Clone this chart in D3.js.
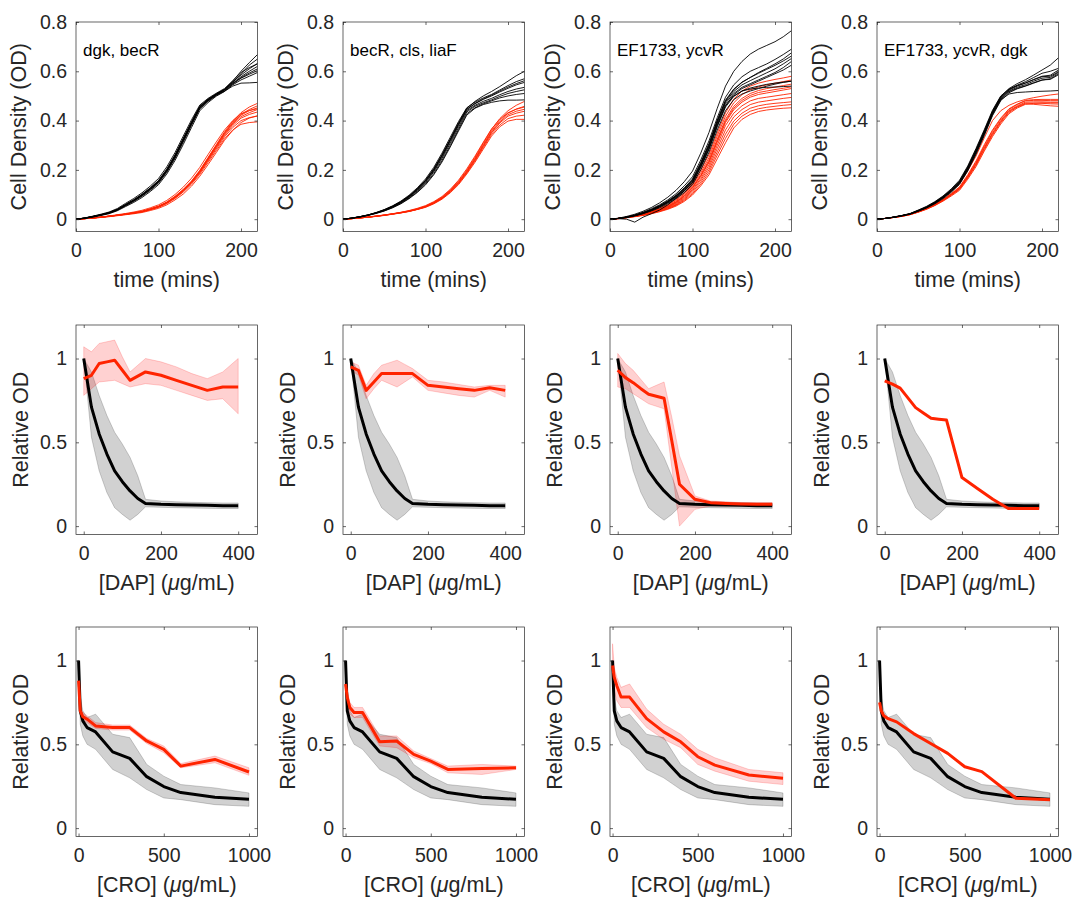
<!DOCTYPE html>
<html><head><meta charset="utf-8">
<script src="https://cdn.jsdelivr.net/npm/d3@7"></script>
<style>
body{margin:0;background:#fff}
svg{display:block}
text{font-family:"Liberation Sans",Arial,Helvetica,sans-serif}
</style>
</head><body>
<svg id="chart" width="1078" height="901"></svg>
<script>
// ---------------- DATA ----------------
const strainLabels = ["dgk, becR", "becR, cls, liaF", "EF1733, ycvR", "EF1733, ycvR, dgk"];

// Row 1: growth curves (time in minutes)
const growthTime = [0,10,20,30,40,50,60,70,80,90,100,110,120,130,140,150,160,170,180,190,200,210,220];

const growthBlack1 = [
 [0,0.004,0.010,0.017,0.025,0.038,0.057,0.075,0.097,0.122,0.151,0.196,0.253,0.320,0.388,0.453,0.482,0.505,0.523,0.550,0.574,0.593,0.610],
 [0,0.004,0.011,0.018,0.027,0.040,0.060,0.079,0.101,0.127,0.157,0.203,0.261,0.328,0.395,0.458,0.487,0.508,0.527,0.557,0.585,0.610,0.632],
 [0,0.003,0.009,0.016,0.024,0.036,0.054,0.072,0.093,0.117,0.146,0.190,0.246,0.312,0.381,0.447,0.478,0.502,0.520,0.545,0.565,0.580,0.595],
 [0,0.004,0.010,0.017,0.026,0.039,0.058,0.077,0.099,0.125,0.154,0.199,0.257,0.324,0.391,0.455,0.484,0.507,0.526,0.560,0.600,0.635,0.668],
 [0,0.004,0.010,0.017,0.025,0.037,0.056,0.074,0.095,0.120,0.149,0.193,0.250,0.317,0.385,0.450,0.480,0.503,0.519,0.540,0.552,0.553,0.555],
 [0,0.004,0.010,0.017,0.025,0.038,0.057,0.076,0.098,0.123,0.152,0.197,0.255,0.322,0.390,0.454,0.483,0.506,0.525,0.552,0.578,0.600,0.620],
 [0,0.004,0.011,0.018,0.026,0.039,0.059,0.078,0.100,0.126,0.156,0.201,0.259,0.326,0.393,0.457,0.486,0.508,0.526,0.555,0.590,0.625,0.650],
 [0,0.005,0.012,0.020,0.029,0.043,0.064,0.084,0.107,0.134,0.165,0.212,0.270,0.337,0.403,0.463,0.490,0.511,0.530,0.562,0.595,0.615,0.630],
 [0,0.003,0.008,0.015,0.022,0.034,0.051,0.068,0.088,0.112,0.140,0.183,0.238,0.303,0.372,0.440,0.473,0.499,0.518,0.548,0.572,0.588,0.603]
];
const growthRed1 = [
 [0,0.002,0.005,0.008,0.012,0.016,0.020,0.025,0.031,0.040,0.050,0.066,0.088,0.115,0.148,0.190,0.240,0.290,0.340,0.380,0.410,0.425,0.435],
 [0,0.002,0.005,0.008,0.012,0.016,0.021,0.026,0.032,0.042,0.053,0.070,0.093,0.121,0.155,0.198,0.250,0.302,0.354,0.398,0.432,0.455,0.470],
 [0,0.002,0.004,0.007,0.011,0.015,0.019,0.024,0.030,0.038,0.048,0.063,0.084,0.110,0.142,0.182,0.230,0.278,0.326,0.362,0.385,0.392,0.395],
 [0,0.002,0.005,0.008,0.012,0.016,0.020,0.025,0.031,0.041,0.051,0.067,0.090,0.118,0.151,0.194,0.245,0.296,0.348,0.390,0.422,0.440,0.452],
 [0,0.002,0.005,0.008,0.012,0.016,0.020,0.025,0.030,0.039,0.049,0.065,0.086,0.113,0.146,0.187,0.236,0.285,0.334,0.372,0.400,0.412,0.418],
 [0,0.002,0.005,0.008,0.012,0.016,0.020,0.025,0.031,0.040,0.051,0.067,0.089,0.116,0.150,0.192,0.243,0.294,0.344,0.386,0.416,0.432,0.445],
 [0,0.002,0.005,0.008,0.012,0.016,0.021,0.026,0.031,0.041,0.052,0.068,0.091,0.119,0.153,0.196,0.247,0.299,0.350,0.393,0.425,0.445,0.460],
 [0,0.002,0.005,0.009,0.013,0.018,0.023,0.029,0.036,0.046,0.058,0.076,0.100,0.130,0.166,0.210,0.262,0.313,0.362,0.400,0.428,0.441,0.448],
 [0,0.002,0.004,0.007,0.010,0.014,0.018,0.022,0.027,0.035,0.044,0.058,0.078,0.102,0.134,0.174,0.221,0.270,0.320,0.360,0.392,0.410,0.420]
];
const growthBlack2 = [
 [0,0.004,0.009,0.016,0.025,0.036,0.050,0.068,0.090,0.118,0.152,0.196,0.252,0.315,0.380,0.440,0.462,0.478,0.490,0.505,0.518,0.528,0.535],
 [0,0.004,0.010,0.017,0.027,0.039,0.054,0.073,0.097,0.127,0.163,0.210,0.268,0.332,0.396,0.452,0.475,0.492,0.506,0.524,0.542,0.558,0.570],
 [0,0.004,0.009,0.015,0.024,0.034,0.047,0.064,0.085,0.111,0.143,0.185,0.238,0.299,0.364,0.428,0.452,0.468,0.480,0.492,0.500,0.506,0.510],
 [0,0.004,0.010,0.017,0.026,0.038,0.053,0.071,0.094,0.123,0.158,0.204,0.261,0.325,0.390,0.450,0.478,0.500,0.518,0.538,0.560,0.582,0.600],
 [0,0.003,0.008,0.015,0.023,0.033,0.046,0.062,0.083,0.108,0.139,0.180,0.232,0.293,0.358,0.422,0.450,0.465,0.474,0.480,0.483,0.483,0.484],
 [0,0.004,0.009,0.016,0.025,0.037,0.051,0.069,0.092,0.120,0.155,0.200,0.257,0.320,0.385,0.445,0.468,0.486,0.500,0.516,0.531,0.545,0.555],
 [0,0.004,0.009,0.016,0.025,0.035,0.049,0.066,0.088,0.115,0.148,0.192,0.246,0.308,0.372,0.435,0.458,0.472,0.484,0.498,0.510,0.518,0.525],
 [0,0.004,0.010,0.017,0.026,0.037,0.052,0.070,0.093,0.122,0.157,0.202,0.259,0.322,0.387,0.446,0.470,0.488,0.503,0.520,0.536,0.550,0.562]
];
const growthRed2 = [
 [0,0.002,0.005,0.008,0.012,0.016,0.021,0.026,0.032,0.040,0.050,0.065,0.084,0.112,0.146,0.190,0.240,0.295,0.350,0.390,0.418,0.430,0.438],
 [0,0.002,0.005,0.008,0.012,0.017,0.022,0.027,0.034,0.042,0.053,0.069,0.089,0.118,0.154,0.199,0.251,0.308,0.364,0.408,0.440,0.462,0.478],
 [0,0.002,0.005,0.008,0.011,0.015,0.020,0.025,0.031,0.039,0.048,0.062,0.081,0.107,0.140,0.183,0.231,0.284,0.337,0.375,0.398,0.405,0.405],
 [0,0.002,0.005,0.008,0.012,0.016,0.021,0.027,0.033,0.041,0.052,0.067,0.087,0.115,0.150,0.195,0.246,0.302,0.358,0.400,0.430,0.447,0.458],
 [0,0.002,0.005,0.008,0.012,0.016,0.021,0.026,0.032,0.040,0.049,0.064,0.083,0.110,0.143,0.187,0.236,0.290,0.344,0.382,0.408,0.418,0.422],
 [0,0.002,0.005,0.008,0.012,0.016,0.021,0.026,0.032,0.040,0.051,0.066,0.085,0.113,0.148,0.192,0.243,0.298,0.353,0.394,0.424,0.438,0.446],
 [0,0.002,0.005,0.009,0.013,0.017,0.022,0.028,0.035,0.044,0.055,0.071,0.092,0.121,0.158,0.204,0.256,0.312,0.366,0.405,0.432,0.446,0.455]
];
const growthBlack3 = [
 [0,0.003,0.008,0.015,0.025,0.037,0.052,0.070,0.092,0.120,0.155,0.220,0.295,0.390,0.470,0.510,0.535,0.550,0.565,0.580,0.595,0.615,0.640],
 [0,0.004,0.011,0.020,0.032,0.047,0.066,0.089,0.117,0.152,0.195,0.268,0.352,0.450,0.540,0.600,0.640,0.670,0.690,0.705,0.720,0.740,0.765],
 [0,0.002,0.000,-0.012,0.008,0.022,0.037,0.058,0.085,0.115,0.150,0.212,0.286,0.380,0.460,0.505,0.530,0.545,0.560,0.575,0.590,0.605,0.625],
 [0,0.003,0.009,0.017,0.028,0.042,0.058,0.078,0.103,0.135,0.172,0.240,0.318,0.412,0.495,0.545,0.578,0.600,0.615,0.630,0.648,0.668,0.690],
 [0,0.003,0.007,0.013,0.022,0.033,0.046,0.063,0.083,0.108,0.140,0.200,0.272,0.362,0.440,0.485,0.508,0.520,0.530,0.540,0.548,0.555,0.560],
 [0,0.003,0.008,0.016,0.026,0.039,0.055,0.074,0.097,0.127,0.163,0.230,0.307,0.402,0.483,0.528,0.556,0.575,0.592,0.608,0.624,0.642,0.662],
 [0,0.003,0.007,0.014,0.023,0.035,0.049,0.066,0.087,0.114,0.147,0.210,0.283,0.375,0.455,0.498,0.520,0.532,0.540,0.547,0.552,0.556,0.560],
 [0,0.003,0.008,0.015,0.025,0.037,0.052,0.071,0.094,0.123,0.158,0.224,0.300,0.395,0.476,0.518,0.545,0.562,0.578,0.594,0.610,0.630,0.652],
 [0,0.003,0.008,0.015,0.024,0.036,0.050,0.068,0.090,0.117,0.151,0.215,0.289,0.383,0.462,0.500,0.520,0.528,0.532,0.535,0.536,0.538,0.540],
 [0,0.003,0.008,0.016,0.026,0.038,0.054,0.072,0.095,0.124,0.160,0.226,0.302,0.398,0.480,0.525,0.555,0.575,0.595,0.612,0.630,0.650,0.675]
];
const growthRed3 = [
 [0,0.003,0.007,0.012,0.018,0.026,0.036,0.048,0.064,0.088,0.120,0.165,0.220,0.300,0.380,0.430,0.460,0.480,0.490,0.495,0.500,0.505,0.510],
 [0,0.003,0.008,0.014,0.022,0.032,0.044,0.059,0.079,0.107,0.145,0.198,0.262,0.350,0.432,0.487,0.520,0.540,0.552,0.560,0.567,0.573,0.580],
 [0,0.002,0.006,0.010,0.015,0.022,0.030,0.040,0.053,0.072,0.098,0.135,0.180,0.245,0.310,0.370,0.405,0.425,0.437,0.443,0.447,0.450,0.452],
 [0,0.003,0.007,0.013,0.020,0.029,0.040,0.053,0.071,0.097,0.132,0.181,0.240,0.325,0.405,0.458,0.490,0.510,0.522,0.530,0.536,0.542,0.548],
 [0,0.002,0.006,0.011,0.017,0.024,0.033,0.044,0.058,0.080,0.109,0.150,0.200,0.273,0.345,0.398,0.430,0.450,0.460,0.466,0.470,0.473,0.476],
 [0,0.003,0.007,0.012,0.019,0.027,0.038,0.050,0.067,0.092,0.126,0.173,0.230,0.312,0.392,0.444,0.475,0.495,0.506,0.512,0.518,0.524,0.530],
 [0,0.003,0.007,0.012,0.018,0.025,0.035,0.046,0.061,0.084,0.115,0.158,0.210,0.287,0.362,0.415,0.445,0.465,0.475,0.480,0.485,0.490,0.494],
 [0,0.003,0.008,0.013,0.021,0.030,0.042,0.056,0.075,0.102,0.138,0.189,0.250,0.338,0.418,0.472,0.505,0.525,0.537,0.545,0.552,0.558,0.565],
 [0,0.002,0.006,0.011,0.016,0.023,0.032,0.042,0.056,0.076,0.103,0.142,0.190,0.260,0.328,0.385,0.418,0.438,0.448,0.454,0.458,0.462,0.465],
 [0,0.003,0.007,0.012,0.019,0.028,0.039,0.052,0.069,0.094,0.128,0.176,0.234,0.318,0.398,0.450,0.482,0.502,0.514,0.520,0.526,0.531,0.537]
];
const growthBlack4 = [
 [0,0.003,0.008,0.014,0.021,0.034,0.048,0.066,0.088,0.115,0.148,0.205,0.274,0.350,0.430,0.490,0.520,0.535,0.546,0.560,0.572,0.575,0.595],
 [0,0.003,0.008,0.015,0.022,0.036,0.050,0.069,0.092,0.120,0.154,0.212,0.282,0.358,0.438,0.498,0.530,0.550,0.566,0.585,0.605,0.625,0.655],
 [0,0.003,0.008,0.014,0.021,0.033,0.047,0.064,0.086,0.112,0.145,0.200,0.268,0.344,0.424,0.484,0.508,0.514,0.516,0.518,0.519,0.520,0.522],
 [0,0.003,0.008,0.014,0.021,0.034,0.048,0.067,0.089,0.117,0.150,0.208,0.277,0.353,0.433,0.493,0.524,0.540,0.552,0.567,0.580,0.584,0.605],
 [0,0.003,0.008,0.014,0.021,0.033,0.047,0.065,0.087,0.114,0.146,0.203,0.271,0.347,0.427,0.487,0.517,0.531,0.541,0.554,0.565,0.567,0.586],
 [0,0.003,0.008,0.014,0.022,0.035,0.049,0.068,0.090,0.118,0.152,0.209,0.279,0.355,0.435,0.495,0.526,0.544,0.558,0.575,0.592,0.600,0.612],
 [0,0.003,0.009,0.015,0.023,0.037,0.052,0.071,0.094,0.123,0.158,0.216,0.287,0.363,0.442,0.500,0.528,0.542,0.553,0.566,0.578,0.580,0.598],
 [0,0.003,0.007,0.013,0.020,0.032,0.045,0.062,0.083,0.109,0.141,0.196,0.263,0.339,0.420,0.481,0.513,0.529,0.540,0.552,0.564,0.570,0.590]
];
const growthRed4 = [
 [0,0.003,0.007,0.012,0.019,0.030,0.042,0.058,0.078,0.100,0.125,0.172,0.226,0.290,0.350,0.400,0.440,0.460,0.475,0.476,0.476,0.475,0.475],
 [0,0.003,0.008,0.014,0.022,0.034,0.048,0.066,0.088,0.114,0.143,0.196,0.256,0.330,0.400,0.440,0.462,0.476,0.486,0.493,0.499,0.504,0.508],
 [0,0.003,0.007,0.012,0.019,0.029,0.041,0.056,0.075,0.097,0.121,0.167,0.219,0.282,0.341,0.392,0.433,0.455,0.468,0.466,0.463,0.460,0.458],
 [0,0.003,0.007,0.012,0.019,0.030,0.043,0.059,0.079,0.102,0.128,0.176,0.231,0.296,0.357,0.406,0.445,0.465,0.480,0.482,0.482,0.481,0.481],
 [0,0.003,0.007,0.012,0.019,0.030,0.042,0.057,0.077,0.099,0.123,0.170,0.223,0.287,0.346,0.396,0.437,0.457,0.471,0.471,0.470,0.468,0.467],
 [0,0.003,0.007,0.013,0.020,0.031,0.044,0.060,0.080,0.104,0.131,0.180,0.236,0.302,0.362,0.410,0.448,0.467,0.482,0.485,0.486,0.486,0.486],
 [0,0.003,0.007,0.011,0.018,0.028,0.040,0.055,0.073,0.094,0.117,0.162,0.213,0.276,0.335,0.386,0.428,0.451,0.466,0.470,0.472,0.472,0.472]
];

// Row 2: daptomycin dose response
const dapConc = [0,20,40,60,80,100,120,140,160,200,240,280,320,360,400];
const dapBlack   = [1,0.71,0.55,0.43,0.33,0.265,0.21,0.165,0.135,0.13,0.128,0.126,0.124,0.122,0.122];
const dapBlackHi = [1,0.92,0.78,0.66,0.56,0.49,0.41,0.30,0.16,0.15,0.145,0.142,0.14,0.138,0.138];
const dapBlackLo = [1,0.53,0.33,0.20,0.11,0.07,0.035,0.07,0.115,0.112,0.11,0.108,0.106,0.105,0.105];
const dapRed1   = [0.88,0.90,0.97,0.98,0.99,0.93,0.87,0.895,0.92,0.90,0.87,0.84,0.81,0.83,0.83];
const dapRed1Hi = [1.07,1.04,1.09,1.10,1.11,1.01,0.92,0.96,1.00,0.98,0.95,0.91,0.88,0.92,1.00];
const dapRed1Lo = [0.78,0.82,0.86,0.865,0.87,0.85,0.83,0.84,0.85,0.84,0.81,0.78,0.75,0.76,0.67];
const dapRed2   = [0.95,0.93,0.81,0.86,0.91,0.91,0.91,0.91,0.91,0.84,0.83,0.82,0.81,0.826,0.81];
const dapRed2Hi = [0.98,0.96,0.84,0.91,0.96,0.975,0.99,0.965,0.94,0.87,0.86,0.845,0.83,0.84,0.84];
const dapRed2Lo = [0.93,0.90,0.76,0.82,0.87,0.85,0.83,0.86,0.89,0.81,0.795,0.78,0.77,0.81,0.77];
const dapRed3   = [0.93,0.886,0.856,0.82,0.787,0.775,0.763,0.51,0.25,0.16,0.14,0.135,0.132,0.13,0.13];
const dapRed3Hi = [1.03,0.97,0.93,0.875,0.82,0.84,0.86,0.65,0.42,0.18,0.15,0.145,0.14,0.14,0.14];
const dapRed3Lo = [0.83,0.82,0.79,0.76,0.73,0.715,0.70,0.35,0.0,0.10,0.12,0.12,0.12,0.118,0.118];
const dapRed4   = [0.867,0.847,0.823,0.765,0.707,0.675,0.643,0.638,0.633,0.29,0.225,0.16,0.105,0.105,0.105];

// Row 3: ceftriaxone dose response
const croConc = [0,10,25,50,100,200,300,400,500,600,800,1000];
const croBlack   = [1,0.70,0.64,0.60,0.574,0.455,0.416,0.307,0.248,0.212,0.184,0.172];
const croBlackHi = [1,0.78,0.70,0.66,0.68,0.56,0.54,0.38,0.31,0.26,0.24,0.21];
const croBlackLo = [1,0.62,0.55,0.50,0.47,0.35,0.30,0.23,0.18,0.17,0.14,0.13];
const croRed1   = [0.88,0.70,0.665,0.65,0.61,0.60,0.60,0.52,0.47,0.37,0.41,0.335];
const croRed1Hi = [0.92,0.72,0.69,0.67,0.63,0.615,0.615,0.535,0.49,0.385,0.43,0.36];
const croRed1Lo = [0.84,0.68,0.645,0.63,0.595,0.585,0.585,0.505,0.45,0.36,0.39,0.315];
const croRed2   = [0.86,0.78,0.72,0.69,0.69,0.515,0.52,0.44,0.40,0.35,0.355,0.36];
const croRed2Hi = [0.90,0.82,0.75,0.72,0.72,0.55,0.55,0.46,0.415,0.37,0.38,0.37];
const croRed2Lo = [0.82,0.74,0.68,0.66,0.66,0.49,0.48,0.42,0.385,0.33,0.32,0.35];
const croRed3   = [0.97,0.90,0.85,0.782,0.782,0.653,0.574,0.515,0.426,0.376,0.317,0.297];
const croRed3Hi = [1.10,0.96,0.90,0.84,0.86,0.71,0.62,0.56,0.47,0.42,0.35,0.33];
const croRed3Lo = [0.90,0.82,0.76,0.72,0.72,0.60,0.53,0.48,0.38,0.34,0.28,0.26];
const croRed4   = [0.75,0.70,0.67,0.653,0.634,0.564,0.505,0.446,0.366,0.337,0.178,0.17];

// Tick values
const growthXTicks = [0,100,200], growthYTicks = [0,0.2,0.4,0.6,0.8];
const dapXTicks = [0,200,400], croXTicks = [0,500,1000], relYTicks = [0,0.5,1];

// ---------------- LAYOUT ----------------
const RED = "#ff2400", INK = "#262626";
const colLeft = [76, 343, 610, 877], panelW = 181.5;
const rowTop = [22, 325, 627], panelH = 209.5;
const svg = d3.select("#chart");
const defs = svg.append("defs");
let clipId = 0;

function axesFrame(row, col, xDomain, yDomain, xTicks, yTicks, xLabel, yLabel, yLabelOff) {
  const x0 = colLeft[col], y0 = rowTop[row];
  const x = d3.scaleLinear().domain(xDomain).range([x0, x0 + panelW]);
  const y = d3.scaleLinear().domain(yDomain).range([y0 + panelH, y0]);
  const id = "clip" + (clipId++);
  defs.append("clipPath").attr("id", id).append("rect")
    .attr("x", x0).attr("y", y0).attr("width", panelW).attr("height", panelH);
  const plot = svg.append("g").attr("clip-path", `url(#${id})`);
  const fmt = d => d === 0 ? "0" : String(d);
  const finish = () => {
    const g = svg.append("g");
    const tl = 3;
    const xa = d3.axisBottom(x).tickValues(xTicks).tickSize(-tl).tickFormat(fmt).tickPadding(14);
    const gx = g.append("g").attr("transform", `translate(0,${y0 + panelH})`).call(xa);
    const xt = d3.axisTop(x).tickValues(xTicks).tickSize(-tl).tickFormat("");
    const gxt = g.append("g").attr("transform", `translate(0,${y0})`).call(xt);
    const ya = d3.axisLeft(y).tickValues(yTicks).tickSize(-tl).tickFormat(fmt).tickPadding(9);
    const gy = g.append("g").attr("transform", `translate(${x0},0)`).call(ya);
    const yr = d3.axisRight(y).tickValues(yTicks).tickSize(-tl).tickFormat("");
    const gyr = g.append("g").attr("transform", `translate(${x0 + panelW},0)`).call(yr);
    [gx, gxt, gy, gyr].forEach(a => {
      a.select(".domain").remove();
      a.selectAll("line").attr("stroke", INK).attr("stroke-width", 0.7);
      a.selectAll("text").attr("fill", INK).style("font-size", "19.5px")
        .style("font-family", '"Liberation Sans",Arial,Helvetica,sans-serif');
    });
    gx.selectAll("text").attr("dy", "0.71em").attr("y", 12);
    g.append("rect").attr("x", x0).attr("y", y0).attr("width", panelW).attr("height", panelH)
      .attr("fill", "none").attr("stroke", INK).attr("stroke-width", 0.7);
    const xl = g.append("text").attr("x", x0 + panelW / 2).attr("y", y0 + panelH + 55)
      .attr("text-anchor", "middle").attr("fill", INK).style("font-size", "21.5px");
    xLabel.forEach(part => xl.append("tspan").style("font-style", part.italic ? "italic" : "normal").text(part.t));
    g.append("text").attr("transform", `translate(${x0 - yLabelOff},${y0 + panelH / 2}) rotate(-90)`)
      .attr("text-anchor", "middle").attr("fill", INK).style("font-size", "21.5px").text(yLabel);
  };
  return {x, y, plot, finish, x0, y0};
}

// ---------------- ROW 1 ----------------
const growthBlack = [growthBlack1, growthBlack2, growthBlack3, growthBlack4];
const growthRed = [growthRed1, growthRed2, growthRed3, growthRed4];
for (let c = 0; c < 4; c++) {
  const A = axesFrame(0, c, [0, 220], [-0.05, 0.8], growthXTicks, growthYTicks,
    [{t: "time (mins)"}], "Cell Density (OD)", 50);
  const line = d3.line().x((d, i) => A.x(growthTime[i])).y(d => A.y(d));
  growthRed[c].forEach(s => A.plot.append("path").attr("d", line(s))
    .attr("fill", "none").attr("stroke", RED).attr("stroke-width", 0.9));
  growthBlack[c].forEach(s => A.plot.append("path").attr("d", line(s))
    .attr("fill", "none").attr("stroke", "#000").attr("stroke-width", 0.9));
  A.finish();
  svg.append("text").attr("x", A.x0 + 7).attr("y", A.y0 + 34).attr("fill", "#000")
    .style("font-size", "17px").text(strainLabels[c]);
}

// ---------------- ROWS 2 & 3 ----------------
function dosePanel(row, col, conc, xDomain, xTicks, xLabel, bl, blHi, blLo, rd, rdHi, rdLo) {
  const A = axesFrame(row, col, xDomain, [-0.05, 1.2], xTicks, relYTicks, xLabel, "Relative OD", 48);
  const area = d3.area().x((d, i) => A.x(conc[i])).y0(d => A.y(d[0])).y1(d => A.y(d[1]));
  const line = d3.line().x((d, i) => A.x(conc[i])).y(d => A.y(d));
  A.plot.append("path").attr("d", area(blLo.map((v, i) => [v, blHi[i]])))
    .attr("fill", "rgba(0,0,0,0.18)").attr("stroke", "rgba(0,0,0,0.3)").attr("stroke-width", 0.6);
  if (rdHi) {
    A.plot.append("path").attr("d", area(rdLo.map((v, i) => [v, rdHi[i]])))
      .attr("fill", "rgba(255,0,0,0.18)").attr("stroke", "rgba(255,0,0,0.3)").attr("stroke-width", 0.6);
  }
  A.plot.append("path").attr("d", line(bl)).attr("fill", "none").attr("stroke", "#000")
    .attr("stroke-width", 3).attr("stroke-linejoin", "round");
  A.plot.append("path").attr("d", line(rd)).attr("fill", "none").attr("stroke", RED)
    .attr("stroke-width", 3).attr("stroke-linejoin", "round");
  A.finish();
}
const dapReds = [[dapRed1, dapRed1Hi, dapRed1Lo], [dapRed2, dapRed2Hi, dapRed2Lo], [dapRed3, dapRed3Hi, dapRed3Lo], [dapRed4, null, null]];
const croReds = [[croRed1, croRed1Hi, croRed1Lo], [croRed2, croRed2Hi, croRed2Lo], [croRed3, croRed3Hi, croRed3Lo], [croRed4, null, null]];
const dapLabel = [{t: "[DAP] ("}, {t: "\u03BC", italic: true}, {t: "g/mL)"}];
const croLabel = [{t: "[CRO] ("}, {t: "\u03BC", italic: true}, {t: "g/mL)"}];
for (let c = 0; c < 4; c++) {
  dosePanel(1, c, dapConc, [-20, 450], dapXTicks, dapLabel, dapBlack, dapBlackHi, dapBlackLo, ...dapReds[c]);
  dosePanel(2, c, croConc, [-15, 1050], croXTicks, croLabel, croBlack, croBlackHi, croBlackLo, ...croReds[c]);
}
</script>
</body></html>
